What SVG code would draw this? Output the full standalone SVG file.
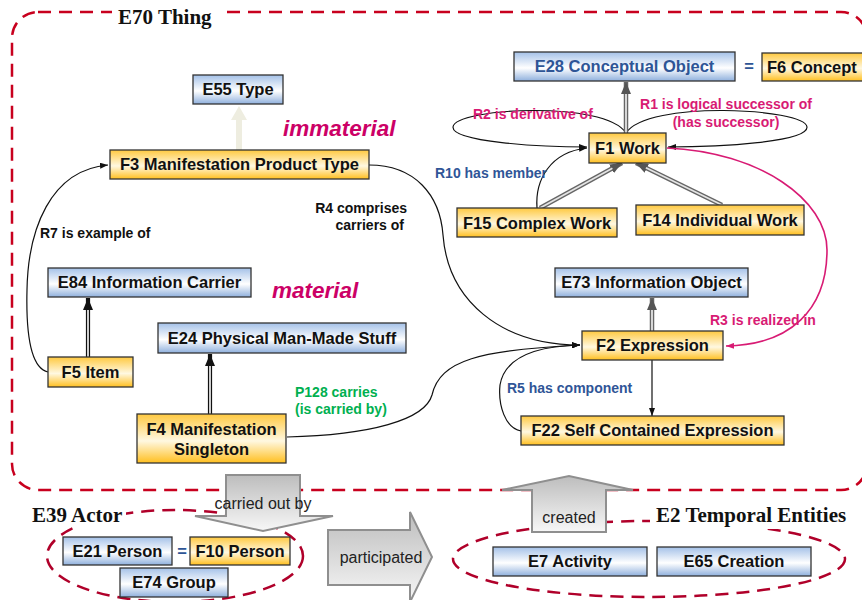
<svg xmlns="http://www.w3.org/2000/svg" width="862" height="600" viewBox="0 0 862 600">
<defs>
<linearGradient id="gBlue" x1="0" y1="0" x2="0" y2="1">
<stop offset="0" stop-color="#A4C1E8"/><stop offset="0.55" stop-color="#FFFFFF"/><stop offset="1" stop-color="#8FB0DD"/>
</linearGradient>
<linearGradient id="gOr" x1="0" y1="0" x2="0" y2="1">
<stop offset="0" stop-color="#FFC940"/><stop offset="0.55" stop-color="#FFF8E1"/><stop offset="1" stop-color="#FFBF1F"/>
</linearGradient>
<linearGradient id="gGray" x1="0" y1="0" x2="0" y2="1">
<stop offset="0" stop-color="#BDBDBD"/><stop offset="1" stop-color="#F7F7F7"/>
</linearGradient>
<marker id="mB" viewBox="0 0 8 6" markerWidth="8" markerHeight="6" refX="8" refY="3" orient="auto" markerUnits="userSpaceOnUse">
<path d="M0,0 L8,3 L0,6 Z" fill="#111"/>
</marker>
<marker id="mM" viewBox="0 0 8 6" markerWidth="8" markerHeight="6" refX="8" refY="3" orient="auto" markerUnits="userSpaceOnUse">
<path d="M0,0 L8,3 L0,6 Z" fill="#D81B74"/>
</marker>
<marker id="mG" viewBox="0 0 12 10" markerWidth="12" markerHeight="10" refX="12" refY="5" orient="auto" markerUnits="userSpaceOnUse">
<path d="M0,0 L12,5 L0,10 Z" fill="#555"/>
</marker>
<marker id="mK" viewBox="0 0 12 10" markerWidth="12" markerHeight="10" refX="12" refY="5" orient="auto" markerUnits="userSpaceOnUse">
<path d="M0,0 L12,5 L0,10 Z" fill="#111"/>
</marker>
</defs>
<style>
.b{fill:url(#gBlue);stroke:#333;stroke-width:1.3}
.o{fill:url(#gOr);stroke:#333;stroke-width:1.3}
.t{font-family:"Liberation Sans",Arial,sans-serif;font-weight:bold;font-size:16.5px;fill:#111;text-anchor:middle}
.lbl{font-family:"Liberation Sans",Arial,sans-serif;font-weight:bold;font-size:14px}
.mag{fill:#D81B74}
.blu{fill:#2F5597}
.grn{fill:#00B050}
.blk{fill:#111}
.big{font-family:"Liberation Sans",Arial,sans-serif;font-weight:bold;font-style:italic;font-size:22.5px;fill:#CC0066}
.ser{font-family:"Liberation Serif","Times New Roman",serif;font-weight:bold;font-size:21px;fill:#111}
.cur{fill:none;stroke:#111;stroke-width:1.2}
.gOut{fill:none;stroke:#666;stroke-width:4.5}
.gIn{fill:none;stroke:#E4E4E4;stroke-width:1.8}
.kOut{fill:none;stroke:#111;stroke-width:4.2}
.kIn{fill:none;stroke:#fff;stroke-width:1.6}
.dash{fill:none;stroke:#C8001E;stroke-width:2.5;stroke-dasharray:13 8}
.dash2{fill:none;stroke:#B0002A;stroke-width:2.5;stroke-dasharray:13 8}
.blk-arr{fill:url(#gGray);stroke:#8F8F8F;stroke-width:2}
.at{font-family:"Liberation Sans",Arial,sans-serif;font-size:16px;fill:#222;text-anchor:middle}
</style>
<rect width="862" height="600" fill="#fff"/>

<g id="containers">
<rect class="dash" x="12" y="12" width="855" height="478" rx="26"/>
<rect x="112" y="2" width="108" height="24" fill="#fff"/>
<text class="ser" x="118" y="24">E70 Thing</text>
<ellipse class="dash2" cx="175" cy="556" rx="128" ry="46"/>
<rect x="28" y="503" width="98" height="24" fill="#fff"/>
<text class="ser" x="32" y="522">E39 Actor</text>
<ellipse class="dash2" cx="649" cy="559" rx="196" ry="38"/>
<rect x="650" y="503" width="204" height="26" fill="#fff"/>
<text class="ser" x="656" y="522">E2 Temporal Entities</text>
</g>

<g id="connectors">
<path class="cur" d="M48,372 C30,368 26,330 27,290 C28,230 50,170 108,165" marker-end="url(#mB)"/>
<path class="cur" d="M369,165 C415,165 440,195 443,235 C448,300 500,345 580,345" marker-end="url(#mB)"/>
<path class="cur" d="M287,437 C370,435 425,420 432,395 C440,360 480,350 580,345" marker-end="url(#mB)"/>
<path class="cur" d="M521,431 C505,428 498,405 500,385 C505,355 540,346 580,345" marker-end="url(#mB)"/>
<path class="cur" d="M537,208 C535,180 550,152 587,148" marker-end="url(#mB)"/>
<path class="cur" d="M626,133 C605,100 455,108 453,127 C452,142 540,147 587,147" marker-end="url(#mB)"/>
<path class="cur" d="M626,133 C647,100 805,108 807,127 C808,142 720,147 668,147" marker-end="url(#mB)"/>
<path fill="none" stroke="#D81B74" stroke-width="1.6" d="M667,148 C760,152 827,200 827,250 C827,310 790,345 726,346" marker-end="url(#mM)"/>
<path class="cur" d="M652,360 L652,416" marker-end="url(#mB)"/>
<!-- gray double arrows -->
<path class="gOut" d="M626,133 L626,82" marker-end="url(#mG)"/>
<path class="gIn" d="M626,133 L626,94"/>
<path class="gOut" d="M540,208 L622,163" marker-end="url(#mG)"/>
<path class="gIn" d="M540,208 L612.4,168.3"/>
<path class="gOut" d="M722,205 L636,163" marker-end="url(#mG)"/>
<path class="gIn" d="M722,205 L645.9,167.8"/>
<path class="gOut" d="M652,331 L652,298" marker-end="url(#mG)"/>
<path class="gIn" d="M652,331 L652,310"/>
<!-- black double arrows -->
<path class="kOut" d="M88,357 L88,298" marker-end="url(#mK)"/>
<path class="kIn" d="M88,357 L88,310"/>
<path class="kOut" d="M210,414 L210,354" marker-end="url(#mK)"/>
<path class="kIn" d="M210,414 L210,366"/>
<!-- E55 pale arrow -->
<polygon points="236,150 242,150 242,120 247,120 239,106 231,120 236,120" fill="#EEEDE0"/>
</g>

<g id="labels">
<text class="lbl mag" x="473" y="119">R2 is derivative of</text>
<text class="lbl mag" x="726" y="109" text-anchor="middle">R1 is logical successor of</text>
<text class="lbl mag" x="726" y="127" text-anchor="middle">(has successor)</text>
<text class="lbl blu" x="435" y="178">R10 has member</text>
<text class="lbl blk" x="407" y="213" text-anchor="end">R4 comprises</text>
<text class="lbl blk" x="404" y="230" text-anchor="end">carriers of</text>
<text class="lbl blk" x="40" y="238">R7 is example of</text>
<text class="lbl grn" x="295" y="397">P128 carries</text>
<text class="lbl grn" x="295" y="414">(is carried by)</text>
<text class="lbl mag" x="710" y="325">R3 is realized in</text>
<text class="lbl blu" x="507" y="393">R5 has component</text>
<text class="big" x="283" y="136">immaterial</text>
<text class="big" x="272" y="298">material</text>
</g>

<g id="n-E55"><rect class="b" x="193" y="75" width="90" height="29"/><text class="t" x="238" y="95">E55 Type</text></g>
<g id="n-F3"><rect class="o" x="110" y="150" width="259" height="29"/><text class="t" x="239.5" y="170">F3 Manifestation Product Type</text></g>
<g id="n-E28"><rect class="b" x="514" y="52" width="221" height="29"/><text class="t" x="624.5" y="72" style="fill:#2E5596">E28 Conceptual Object</text></g>
<g id="eq1"><text class="t" x="749" y="72" style="fill:#2E5596">=</text></g>
<g id="n-F6"><rect class="o" x="762" y="53" width="106" height="28"/><text class="t" x="767" y="73" style="text-anchor:start">F6 Concept</text></g>
<g id="n-F1"><rect class="o" x="589" y="133" width="77" height="30"/><text class="t" x="627.5" y="154">F1 Work</text></g>
<g id="n-F15"><rect class="o" x="457" y="208" width="160" height="29"/><text class="t" x="537" y="229">F15 Complex Work</text></g>
<g id="n-F14"><rect class="o" x="636" y="205" width="168" height="30"/><text class="t" x="720" y="226">F14 Individual Work</text></g>
<g id="n-E73"><rect class="b" x="555" y="268" width="193" height="29"/><text class="t" x="651.5" y="288">E73 Information Object</text></g>
<g id="n-F2"><rect class="o" x="582" y="331" width="141" height="29"/><text class="t" x="652.5" y="351">F2 Expression</text></g>
<g id="n-F22"><rect class="o" x="521" y="416" width="263" height="29"/><text class="t" x="652.5" y="436">F22 Self Contained Expression</text></g>
<g id="n-E84"><rect class="b" x="48" y="268" width="203" height="29"/><text class="t" x="149.5" y="288">E84 Information Carrier</text></g>
<g id="n-F5"><rect class="o" x="48" y="357" width="85" height="30"/><text class="t" x="90.5" y="378">F5 Item</text></g>
<g id="n-E24"><rect class="b" x="158" y="323" width="248" height="30"/><text class="t" x="282" y="344">E24 Physical Man-Made Stuff</text></g>
<g id="n-F4"><rect class="o" x="137" y="414" width="149" height="49"/><text class="t" x="211.5" y="435">F4 Manifestation</text><text class="t" x="211.5" y="455">Singleton</text></g>

<g id="block-arrows">
<polygon class="blk-arr" points="226,475 300,475 300,516 333,516 263,531 195,516 226,516"/>
<text class="at" x="263" y="509">carried out by</text>
<polygon class="blk-arr" points="328,530 410,530 410,512 432,557 410,602 410,585 328,585"/>
<text class="at" x="381" y="563">participated</text>
<polygon class="blk-arr" points="532,532 532,490 502,490 569,476 633,490 606,490 606,532"/>
<text class="at" x="569" y="523">created</text>
</g>

<g id="n-E21"><rect class="b" x="63" y="537" width="109" height="28"/><text class="t" x="117.5" y="557">E21 Person</text></g>
<g id="eq2"><text class="t" x="182" y="557" style="fill:#2E5596">=</text></g>
<g id="n-F10"><rect class="o" x="190" y="537" width="100" height="28"/><text class="t" x="240" y="557">F10 Person</text></g>
<g id="n-E74"><rect class="b" x="120" y="568" width="108" height="29"/><text class="t" x="174" y="588">E74 Group</text></g>
<g id="n-E7"><rect class="b" x="493" y="547" width="154" height="29"/><text class="t" x="570" y="567">E7 Activity</text></g>
<g id="n-E65"><rect class="b" x="657" y="547" width="154" height="29"/><text class="t" x="734" y="567">E65 Creation</text></g>
</svg>
